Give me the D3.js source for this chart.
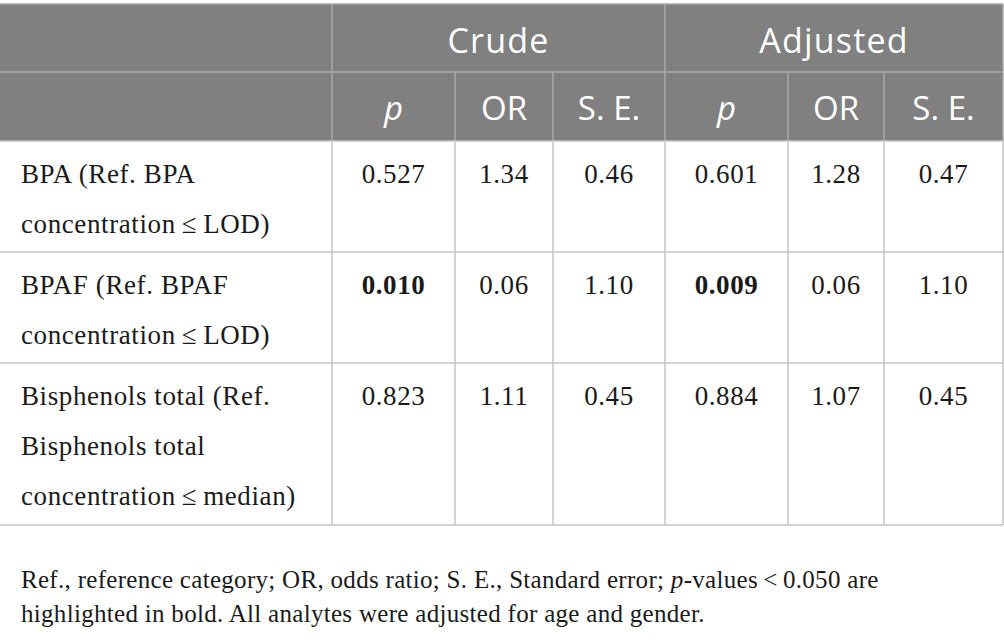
<!DOCTYPE html>
<html><head><meta charset="utf-8">
<script src="https://cdn.jsdelivr.net/npm/d3@7"></script>
<style>html,body{margin:0;padding:0;background:#fff;}svg{display:block;}</style>
</head><body>
<svg id="chart" width="1004" height="640"></svg>
<script>
// ---- data ----
const groups = ["Crude", "Adjusted"];
const subHeaders = ["p", "OR", "S. E."];
const rowLabels = [
  ["BPA (Ref. BPA", "concentration\u2009\u2264\u2009LOD)"],
  ["BPAF (Ref. BPAF", "concentration\u2009\u2264\u2009LOD)"],
  ["Bisphenols total (Ref.", "Bisphenols total", "concentration\u2009\u2264\u2009median)"]
];
const crudeP  = ["0.527", "0.010", "0.823"];
const crudeOR = ["1.34", "0.06", "1.11"];
const crudeSE = ["0.46", "1.10", "0.45"];
const adjP    = ["0.601", "0.009", "0.884"];
const adjOR   = ["1.28", "0.06", "1.07"];
const adjSE   = ["0.47", "1.10", "0.45"];
const footnoteLines = [
  [{t:"Ref., reference category; OR, odds ratio; S. E., Standard error; "},{t:"p",i:true},{t:"-values\u2009<\u20090.050 are"}],
  [{t:"highlighted in bold. All analytes were adjusted for age and gender."}]
];

// ---- layout ----
const svg = d3.select("#chart");
const colEdges = [0, 332, 455, 553, 665, 788, 884, 1003];
const rowEdges = [4, 72, 141, 252, 363, 525];
const colX = i => colEdges[i];
const colMid = i => (colEdges[i] + colEdges[i + 1]) / 2;

const headerFill = "#808080", headerLine = "#a9a9a9", bodyLine = "#c4c4c4";
const sansFont = "'Open Sans', sans-serif";
const serifFont = "'Liberation Serif', 'Times New Roman', serif";

// header background
svg.append("rect").attr("x", 0).attr("y", rowEdges[0])
  .attr("width", colEdges[7]).attr("height", rowEdges[2] - rowEdges[0])
  .attr("fill", headerFill);

// header lines
const hl = svg.append("g").attr("stroke", headerLine).attr("stroke-width", 1.5);
hl.append("line").attr("x1", 0).attr("x2", colEdges[7]).attr("y1", rowEdges[0]).attr("y2", rowEdges[0]);
hl.append("line").attr("x1", 0).attr("x2", colEdges[7]).attr("y1", rowEdges[1]).attr("y2", rowEdges[1]);
[1, 4, 7].forEach(i => hl.append("line").attr("x1", colX(i)).attr("x2", colX(i)).attr("y1", rowEdges[0]).attr("y2", rowEdges[2]));
[2, 3, 5, 6].forEach(i => hl.append("line").attr("x1", colX(i)).attr("x2", colX(i)).attr("y1", rowEdges[1]).attr("y2", rowEdges[2]));

// body lines
const bl = svg.append("g").attr("stroke", bodyLine).attr("stroke-width", 1.5);
rowEdges.slice(2).forEach(y => bl.append("line").attr("x1", 0).attr("x2", colEdges[7]).attr("y1", y).attr("y2", y));
d3.range(1, 8).forEach(i => bl.append("line").attr("x1", colX(i)).attr("x2", colX(i)).attr("y1", rowEdges[2]).attr("y2", rowEdges[5]));

// group headers
groups.forEach((g, k) => {
  const a = k === 0 ? 1 : 4;
  svg.append("text").attr("x", (colX(a) + colX(a + 3)) / 2).attr("y", 53)
    .attr("text-anchor", "middle").attr("fill", "#fff")
    .attr("font-family", sansFont).attr("font-size", 34).attr("letter-spacing", 1.2)
    .text(g);
});
// sub headers
[0, 1].forEach(k => subHeaders.forEach((s, j) => {
  const c = 1 + k * 3 + j;
  svg.append("text").attr("x", colMid(c)).attr("y", 120)
    .attr("text-anchor", "middle").attr("fill", "#fff")
    .attr("font-family", sansFont).attr("font-size", 33)
    .attr("font-style", s === "p" ? "italic" : "normal")
    .text(s);
}));

// body
const cols = [crudeP, crudeOR, crudeSE, adjP, adjOR, adjSE];
const lineH = 50, firstBase = 42;
rowLabels.forEach((lines, r) => {
  const top = rowEdges[2 + r];
  lines.forEach((ln, li) => {
    svg.append("text").attr("x", 21).attr("y", top + firstBase + li * lineH)
      .attr("fill", "#1a1a1a").attr("font-family", serifFont).attr("font-size", 27)
      .attr("letter-spacing", 0.6)
      .text(ln);
  });
  cols.forEach((arr, c) => {
    const isP = c === 0 || c === 3;
    svg.append("text").attr("x", colMid(c + 1)).attr("y", top + firstBase)
      .attr("text-anchor", "middle").attr("fill", "#1a1a1a")
      .attr("font-family", serifFont).attr("font-size", 27).attr("letter-spacing", 0.6)
      .attr("font-weight", isP && +arr[r] < 0.05 ? "bold" : "normal")
      .text(arr[r]);
  });
});

// footnote
footnoteLines.forEach((segs, i) => {
  const t = svg.append("text").attr("x", 21).attr("y", 588 + i * 34)
    .attr("fill", "#1a1a1a").attr("font-family", serifFont).attr("font-size", 25)
    .attr("letter-spacing", 0.3);
  segs.forEach(s => t.append("tspan").attr("font-style", s.i ? "italic" : "normal").text(s.t));
});
</script>
</body></html>
